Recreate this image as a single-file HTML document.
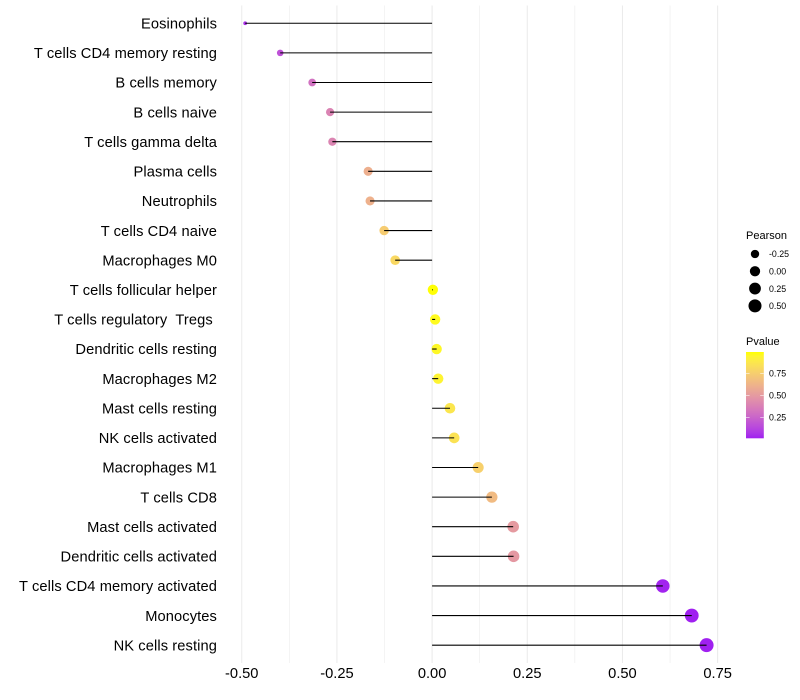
<!DOCTYPE html>
<html lang="en">
<head>
<meta charset="utf-8">
<title>Immune cell correlation lollipop chart</title>
<style>
html,body{margin:0;padding:0;background:#fff;width:800px;height:700px;overflow:hidden}
svg{display:block;font-family:"Liberation Sans",Arial,sans-serif}
text{white-space:pre}
</style>
</head>
<body>
<svg id="chart" xmlns="http://www.w3.org/2000/svg" width="800" height="700" viewBox="0 0 800 700">
<defs><linearGradient id="pvalue-gradient" x1="0" y1="1" x2="0" y2="0"></linearGradient></defs>
<g id="grid"></g>
<g id="points"></g>
<g id="stems"></g>
<g id="ylabels"></g>
<g id="xlabels"></g>
<g id="size-legend"></g>
<g id="color-legend"></g>
</svg>
<script>
const categories = ["Eosinophils","T cells CD4 memory resting","B cells memory","B cells naive","T cells gamma delta","Plasma cells","Neutrophils","T cells CD4 naive","Macrophages M0","T cells follicular helper","T cells regulatory  Tregs ","Dendritic cells resting","Macrophages M2","Mast cells resting","NK cells activated","Macrophages M1","T cells CD8","Mast cells activated","Dendritic cells activated","T cells CD4 memory activated","Monocytes","NK cells resting"];
const pearson = [-0.491,-0.399,-0.315,-0.268,-0.262,-0.168,-0.163,-0.126,-0.097,0.002,0.008,0.012,0.016,0.047,0.058,0.121,0.157,0.213,0.214,0.606,0.682,0.721];
const pvalue = [0.06,0.17,0.31,0.39,0.40,0.60,0.61,0.74,0.80,0.99,0.97,0.96,0.94,0.87,0.85,0.76,0.66,0.50,0.49,0.02,0.012,0.012];
const xTicks = [-0.5,-0.25,0,0.25,0.5,0.75];
const xMinorTicks = [-0.375,-0.125,0.125,0.375,0.625];
const sizeLegendValues = [-0.25,0,0.25,0.5];
const colorLegendTicks = [0.25,0.5,0.75];

const NS = "http://www.w3.org/2000/svg";
const $ = id => document.getElementById(id);
function make(tag, attrs, parent, txt){
  const el = document.createElementNS(NS, tag);
  for (const k in attrs) el.setAttribute(k, attrs[k]);
  if (txt !== undefined) el.textContent = txt;
  parent.appendChild(el);
  return el;
}
const X0 = 432.1, XK = 380.7, Y0 = 23.26, YSTEP = 29.615;
const xScale = v => X0 + v * XK;
const yScale = i => Y0 + i * YSTEP;
const panelTop = yScale(0) - 0.6 * YSTEP;
const panelBottom = yScale(categories.length - 1) + 0.6 * YSTEP;
const minR = Math.min(...pearson), maxR = Math.max(...pearson);
const radius = v => 1.9 + 5.1 * Math.sqrt(Math.max(0, (v - minR) / (maxR - minR)));

/* Lab colour interpolation, purple to yellow */
function toLab(c){
  const l = c.map(v => { v /= 255; return v > 0.04045 ? Math.pow((v + 0.055) / 1.055, 2.4) : v / 12.92; });
  const xyz = [
    (0.4124 * l[0] + 0.3576 * l[1] + 0.1805 * l[2]) / 0.95047,
    0.2126 * l[0] + 0.7152 * l[1] + 0.0722 * l[2],
    (0.0193 * l[0] + 0.1192 * l[1] + 0.9505 * l[2]) / 1.08883
  ].map(t => t > 0.008856 ? Math.cbrt(t) : 7.787 * t + 16 / 116);
  return [116 * xyz[1] - 16, 500 * (xyz[0] - xyz[1]), 200 * (xyz[1] - xyz[2])];
}
function fromLab(L){
  const fy = (L[0] + 16) / 116, fx = fy + L[1] / 500, fz = fy - L[2] / 200;
  const inv = t => t * t * t > 0.008856 ? t * t * t : (t - 16 / 116) / 7.787;
  const x = inv(fx) * 0.95047, y = inv(fy), z = inv(fz) * 1.08883;
  const lin = [3.2406 * x - 1.5372 * y - 0.4986 * z, -0.9689 * x + 1.8758 * y + 0.0415 * z, 0.0557 * x - 0.204 * y + 1.057 * z];
  const out = lin.map(v => { v = Math.max(0, Math.min(1, v)); return Math.round(255 * (v > 0.0031308 ? 1.055 * Math.pow(v, 1 / 2.4) - 0.055 : 12.92 * v)); });
  return "rgb(" + out.join(",") + ")";
}
const labLow = toLab([160, 32, 240]), labHigh = toLab([255, 255, 0]);
const PMIN = 0.0114, PMAX = 0.992;
function pColor(p){
  const t = Math.max(0, Math.min(1, (p - PMIN) / (PMAX - PMIN)));
  return fromLab(labLow.map((v, i) => v + (labHigh[i] - v) * t));
}

/* grid */
xMinorTicks.forEach(v => {
  const el = make("line", {x1:xScale(v), x2:xScale(v), y1:panelTop, y2:panelBottom, stroke:"#ebebeb", "stroke-width":0.55}, $("grid"));
  
  
});
xTicks.forEach(v => {
  const el = make("line", {x1:xScale(v), x2:xScale(v), y1:panelTop, y2:panelBottom, stroke:"#ebebeb", "stroke-width":1.07}, $("grid"));
  
  
  const t = make("text", {x:xScale(v), y:678, "text-anchor":"middle", "font-size":14.67, fill:"#000"}, $("xlabels"), v.toFixed(2));
  
  
});

/* marks */
categories.forEach((name, i) => {
  const y = yScale(i);
  const c = make("circle", {cx:xScale(pearson[i]), cy:y, r:radius(pearson[i]), fill:pColor(pvalue[i])}, $("points"));
  
  
  const l = make("line", {x1:xScale(0), x2:xScale(pearson[i]), y1:y, y2:y, stroke:"#000", "stroke-width":1.07}, $("stems"));
  
  
  const t = make("text", {x:217, y:y + 5.2, "text-anchor":"end", "font-size":14.67, "letter-spacing":0.1, fill:"#000"}, $("ylabels"), name);
  
  
});

/* size legend */
const sizeTitle = make("text", {x:746, y:239, "font-size":11, fill:"#000"}, $("size-legend"), "Pearson");


sizeLegendValues.forEach((v, i) => {
  const y = 254 + i * 17.28;
  const c = make("circle", {cx:755, cy:y, r:radius(v), fill:"#000"}, $("size-legend"));
  
  
  const t = make("text", {x:769, y:y + 3.2, "font-size":8.8, fill:"#000"}, $("size-legend"), v.toFixed(2));
  
  
});

/* colour legend */
const colorTitle = make("text", {x:746, y:345, "font-size":11, fill:"#000"}, $("color-legend"), "Pvalue");


const grad = $("pvalue-gradient");
for (let s = 0; s <= 20; s++) {
  make("stop", {offset:s / 20, "stop-color":pColor(PMIN + (PMAX - PMIN) * s / 20)}, grad);
}
const BAR_TOP = 352, BAR_BOTTOM = 438.3, BAR_LEFT = 746, BAR_W = 17.8;
const bar = make("rect", {x:BAR_LEFT, y:BAR_TOP, width:BAR_W, height:BAR_BOTTOM - BAR_TOP, fill:"url(#pvalue-gradient)"}, $("color-legend"));


const barY = p => BAR_BOTTOM - (p - PMIN) / (PMAX - PMIN) * (BAR_BOTTOM - BAR_TOP);
colorLegendTicks.forEach(p => {
  const y = barY(p);
  [[BAR_LEFT, BAR_LEFT + 3.6], [BAR_LEFT + BAR_W - 3.6, BAR_LEFT + BAR_W]].forEach(seg => {
    const k = make("line", {x1:seg[0], x2:seg[1], y1:y, y2:y, stroke:"#fff", "stroke-width":0.55}, $("color-legend"));
    
    
  });
  const t = make("text", {x:769, y:y + 3.2, "font-size":8.8, fill:"#000"}, $("color-legend"), p.toFixed(2));
  
  
});
</script>
</body>
</html>
